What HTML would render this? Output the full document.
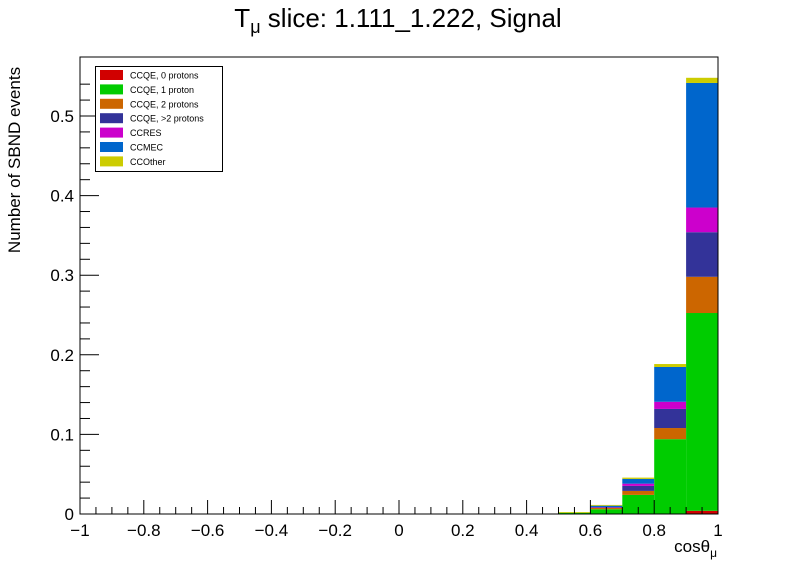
<!DOCTYPE html>
<html><head><meta charset="utf-8"><style>
html,body{margin:0;padding:0;background:#fff;}
svg{display:block;font-family:"Liberation Sans",sans-serif;}
</style></head><body>
<svg id="c" width="796" height="572"></svg>
<script>
const binEdges=[0.5,0.6,0.7,0.8,0.9];
const seriesNames=["CCQE, 0 protons","CCQE, 1 proton","CCQE, 2 protons","CCQE, >2 protons","CCRES","CCMEC","CCOther"];
const seriesColors=["#d10000","#00cc00","#cc6600","#333399","#cc00cc","#0066cc","#cccc00"];
const ccqe0=[0,0,0,0,0.004];
const ccqe1=[0.0015,0.006,0.024,0.094,0.2485];
const ccqe2=[0,0.0016,0.005,0.014,0.0455];
const ccqe3=[0,0.0008,0.0063,0.024,0.056];
const ccres=[0,0.0004,0.0028,0.009,0.031];
const ccmec=[0,0.0016,0.006,0.0437,0.1565];
const ccother=[0.001,0.001,0.0016,0.0037,0.0065];
const binWidth=0.1;
const xTicks=[-1,-0.8,-0.6,-0.4,-0.2,0,0.2,0.4,0.6,0.8,1];
const xTickLabels=["−1","−0.8","−0.6","−0.4","−0.2","0","0.2","0.4","0.6","0.8","1"];
const yTicks=[0,0.1,0.2,0.3,0.4,0.5];
const yTickLabels=["0","0.1","0.2","0.3","0.4","0.5"];

const NS="http://www.w3.org/2000/svg";
const svg=document.getElementById('c');
const X0=80,X1=718,Y0=514,YT=57;
const xs=v=>X0+(v+1)/2*(X1-X0);
const ys=v=>Y0-v*796;
function mk(t,a,p){const e=document.createElementNS(NS,t);for(const k in a)e.setAttribute(k,a[k]);(p||svg).appendChild(e);return e;}

const all=[ccqe0,ccqe1,ccqe2,ccqe3,ccres,ccmec,ccother];
const g=mk('g',{});


binEdges.forEach((b,i)=>{
  let cum=0;
  all.forEach((s,j)=>{
    const v=s[i]; if(v<=0)return;
    const r=mk('rect',{x:xs(b),y:ys(cum+v),width:xs(b+binWidth)-xs(b),height:ys(cum)-ys(cum+v),fill:seriesColors[j]},g);
    
    
    cum+=v;
  });
});

const frame=mk('rect',{x:X0,y:YT,width:X1-X0,height:Y0-YT,fill:'none',stroke:'#000','stroke-width':1});



for(let k=0;k<=40;k++){
  const v=-1+k*0.05, x=xs(v), major=(k%4===0);
  mk('line',{x1:x,x2:x,y1:Y0,y2:Y0-(major?14:7),stroke:'#000'});
}
xTicks.forEach((v,i)=>{
  const t=mk('text',{x:xs(v),y:Y0+22,'text-anchor':'middle','font-size':17});
  t.textContent=xTickLabels[i];
  
  
});
for(let k=0;k<=27;k++){
  const v=k*0.02, y=ys(v); if(y<YT)break; const major=(k%5===0);
  mk('line',{x1:X0,x2:X0+(major?19:10),y1:y,y2:y,stroke:'#000'});
}
yTicks.forEach((v,i)=>{
  const t=mk('text',{x:X0-6,y:ys(v)+6,'text-anchor':'end','font-size':17});
  t.textContent=yTickLabels[i];
  
  
});

const ti=mk('text',{x:398,y:27,'text-anchor':'middle','font-size':26});


ti.innerHTML='T<tspan font-size="18" dy="6">μ</tspan><tspan dy="-6"> slice: 1.111_1.222, Signal</tspan>';
const yt=mk('text',{x:20,y:160,'text-anchor':'middle','font-size':17,transform:'rotate(-90 20 160)'});
yt.textContent='Number of SBND events';


const xt=mk('text',{x:717,y:552,'text-anchor':'end','font-size':17});
xt.innerHTML='cosθ<tspan font-size="12" dy="5">μ</tspan>';



const lg=mk('g',{});


mk('rect',{x:95.5,y:66.5,width:127,height:105,fill:'#fff',stroke:'#000'},lg);
seriesNames.forEach((n,i)=>{
  const y=70+i*14.4;
  const e=mk('g',{},lg);
  
  
  mk('rect',{x:100,y:y,width:23,height:10,fill:seriesColors[i]},e);
  const t=mk('text',{x:130,y:y+8.5,'font-size':9},e);
  t.textContent=n;
});
</script>
</body></html>
